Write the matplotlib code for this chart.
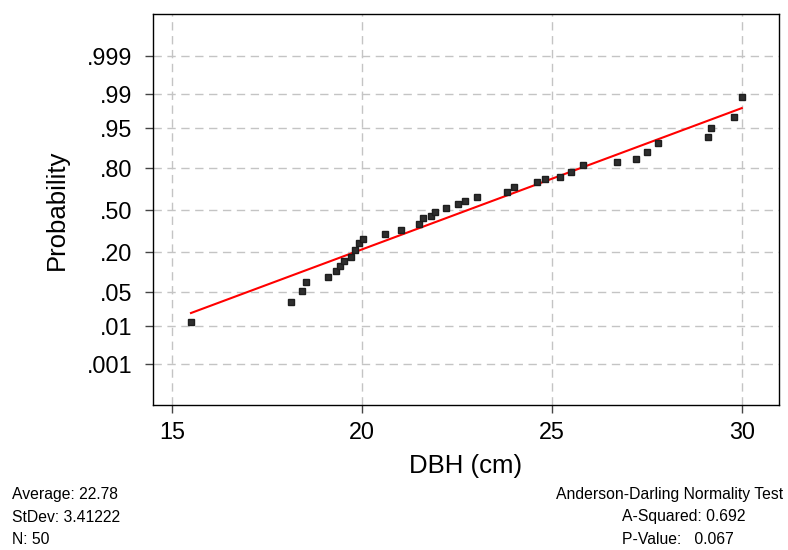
"""
Normal probability plot of DBH with fitted line and Anderson-Darling summary.
"""

from statistics import NormalDist

import matplotlib

matplotlib.use("Agg")
import matplotlib.pyplot as plt
import numpy as np
from matplotlib import font_manager

plt.rcParams["font.family"] = ["Liberation Sans", "DejaVu Sans"]

# DBH values (cm), with their plotted cumulative probability
dbh = [15.49, 18.12, 18.41, 18.52, 19.10, 19.31, 19.42, 19.52, 19.71, 19.81,
       19.92, 20.03, 20.60, 21.03, 21.50, 21.61, 21.82, 21.92, 22.20, 22.52,
       22.70, 23.02, 23.81, 23.99, 24.60, 24.81, 25.20, 25.49, 25.81, 26.70,
       27.20, 27.49, 27.78, 29.10, 29.18, 29.78, 29.99]
prob = [0.0121, 0.0321, 0.0516, 0.0737, 0.0888, 0.110, 0.130, 0.152, 0.172, 0.210,
        0.253, 0.280, 0.315, 0.344, 0.389, 0.436, 0.452, 0.484, 0.516, 0.548,
        0.572, 0.603, 0.641, 0.678, 0.713, 0.734, 0.747, 0.778, 0.817, 0.833,
        0.848, 0.878, 0.911, 0.929, 0.951, 0.969, 0.9885]

# fitted line as drawn (centre and spread)
line_mean = 22.78
line_sd = 3.52

prob_ticks = [0.001, 0.01, 0.05, 0.20, 0.50, 0.80, 0.95, 0.99, 0.999]
prob_labels = [".001", ".01", ".05", ".20", ".50", ".80", ".95", ".99", ".999"]
x_ticks = [15, 20, 25, 30]

left_text = ["Average: 22.78", "StDev: 3.41222", "N: 50"]
right_title = "Anderson-Darling Normality Test"
right_text = ["A-Squared: 0.692", "P-Value:   0.067"]

nd = NormalDist()


def probit(p):
    return np.array([nd.inv_cdf(v) for v in np.atleast_1d(p)])


def narrow_font():
    """Use a condensed face if installed, else plain Liberation Sans smaller."""
    try:
        font_manager.findfont("Liberation Sans Narrow", fallback_to_default=False)
        return ["Liberation Sans Narrow", "DejaVu Sans"], 13.6
    except ValueError:
        return ["Liberation Sans", "DejaVu Sans"], 11.3


fig = plt.figure(figsize=(7.88, 5.5), dpi=100)
ax = fig.add_axes([153 / 788, 1 - 405 / 550, 626 / 788, 391 / 550])

ax.grid(True, color="#c4c4c4", linestyle=(0, (6, 4)), linewidth=1.0)
ax.set_axisbelow(True)

x_line = np.array([min(dbh), max(dbh)])
z_line = (x_line - line_mean) / line_sd
ax.plot(x_line, z_line, color="#ff0000", linewidth=1.5, zorder=3)

ax.plot(dbh, probit(prob), linestyle="none", marker="s", markersize=5,
        markerfacecolor="#2e2e2e", markeredgecolor="#1e1e1e", zorder=4)

ax.set_xlim(14.49, 30.97)
ax.set_ylim(-3.92, 3.94)
ax.set_xticks(x_ticks)
ax.set_yticks(probit(prob_ticks))
ax.set_yticklabels(prob_labels)
ax.tick_params(axis="both", labelsize=16.8, length=5.8, width=1,
               color="#444444")
ax.tick_params(axis="y", pad=9.2)
ax.tick_params(axis="x", pad=6.0)

for sp in ax.spines.values():
    sp.set_color("black")
    sp.set_linewidth(1.0)

ax.set_xlabel("DBH (cm)", fontsize=18.5, labelpad=7)
ax.set_ylabel("Probability", fontsize=18.5, labelpad=13)

fam, fsize = narrow_font()
for i, s in enumerate(left_text):
    fig.text(12 / 788, 1 - (495 + 22 * i) / 550, s, family=fam,
             fontsize=fsize, ha="left", va="center")
fig.text(783 / 788, 1 - 495 / 550, right_title, family=fam,
         fontsize=fsize, ha="right", va="center")
for i, s in enumerate(right_text):
    fig.text(622 / 788, 1 - (517 + 22 * i) / 550, s, family=fam,
             fontsize=fsize, ha="left", va="center")

fig.savefig("out.png", dpi=100)
